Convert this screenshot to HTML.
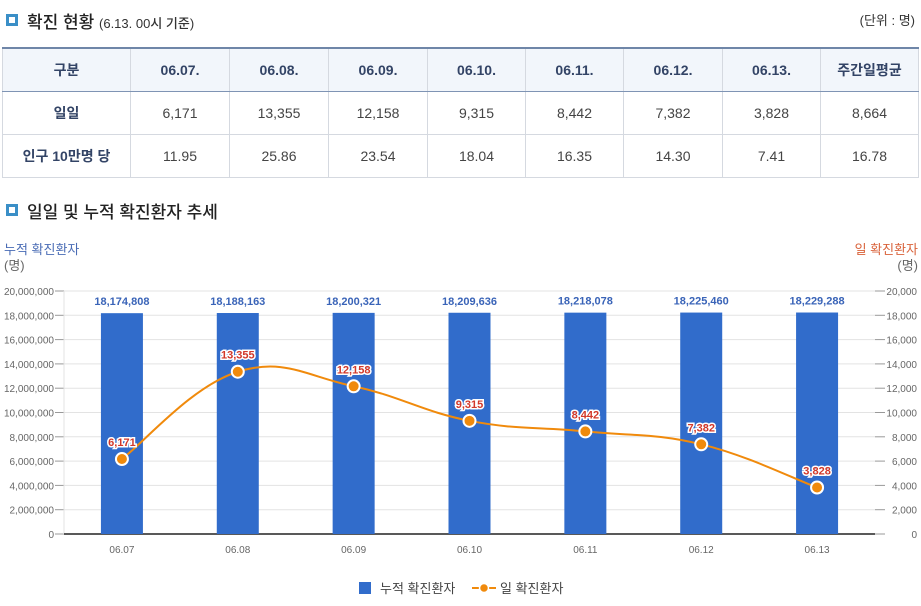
<!DOCTYPE html>
<html><head><meta charset="utf-8">
<style>
body{margin:0;width:921px;height:606px;background:#fff;font-family:"Liberation Sans","Noto Sans CJK KR",sans-serif;position:relative;overflow:hidden;color:#333}
.h{position:absolute;left:6px;font-size:17px;color:#222;font-weight:500}
.h .sq{display:inline-block;width:6px;height:6px;border:3px solid #3a8fc7;margin-right:9px;vertical-align:2px;background:#fff}
table{position:absolute;left:2px;top:47px;border-collapse:collapse;font-size:14px;table-layout:fixed;width:916px}
td,th{border:1px solid #d5d9e0;text-align:center;height:42px;padding:0;color:#444;font-weight:normal}
th{background:#f2f6fb;color:#334466;font-weight:bold}
tr.hd th{border-top:2px solid #6f86a8;border-bottom:1px solid #7f94b4}
td.lab{font-weight:bold;color:#334466}
</style></head><body>
<div class="h" style="top:8px"><span class="sq"></span>확진 현황 <span style="font-size:13px;color:#333">(6.13. 00시 기준)</span></div>
<div style="position:absolute;right:6px;top:10px;font-size:13px">(단위 : 명)</div>
<table>
<colgroup><col style="width:128px"><col style="width:99px"><col style="width:99px"><col style="width:99px"><col style="width:98px"><col style="width:98px"><col style="width:99px"><col style="width:98px"><col style="width:98px"></colgroup>
<tr class="hd"><th>구분</th><th>06.07.</th><th>06.08.</th><th>06.09.</th><th>06.10.</th><th>06.11.</th><th>06.12.</th><th>06.13.</th><th>주간일평균</th></tr>
<tr><td class="lab">일일</td><td>6,171</td><td>13,355</td><td>12,158</td><td>9,315</td><td>8,442</td><td>7,382</td><td>3,828</td><td>8,664</td></tr>
<tr><td class="lab">인구 10만명 당</td><td>11.95</td><td>25.86</td><td>23.54</td><td>18.04</td><td>16.35</td><td>14.30</td><td>7.41</td><td>16.78</td></tr>
</table>
<div class="h" style="top:198px"><span class="sq"></span>일일 및 누적 확진환자 추세</div>
<svg id="c" width="921" height="606" style="position:absolute;left:0;top:0"></svg>
<script>
const categories=["06.07","06.08","06.09","06.10","06.11","06.12","06.13"];
const cumulative=[18174808,18188163,18200321,18209636,18218078,18225460,18229288];
const daily=[6171,13355,12158,9315,8442,7382,3828];
const leftTicks=[0,2000000,4000000,6000000,8000000,10000000,12000000,14000000,16000000,18000000,20000000];
const rightTicks=[0,2000,4000,6000,8000,10000,12000,14000,16000,18000,20000];
const svg=document.getElementById('c');const NS='http://www.w3.org/2000/svg';
const X0=64,X1=875,Y0=534,Y1=291;
const bw=(X1-X0)/categories.length;
const xc=i=>X0+bw*(i+0.5);
const yl=v=>Y0-(v/20000000)*(Y0-Y1);
const yr=v=>Y0-(v/20000)*(Y0-Y1);
const fmt=v=>v.toLocaleString('en-US');
function el(t,a,txt){const e=document.createElementNS(NS,t);for(const k in a)e.setAttribute(k,a[k]);if(txt!=null)e.textContent=txt;svg.appendChild(e);return e;}
leftTicks.forEach(v=>{
 const g=el('line',{x1:X0,x2:X1,y1:yl(v),y2:yl(v),stroke:'#e3e3e3'});
 
 
 el('line',{x1:55,x2:X0,y1:yl(v),y2:yl(v),stroke:'#999'});
 const t=el('text',{x:54,y:yl(v)+4,'text-anchor':'end','font-size':10,fill:'#666'},fmt(v));
 
 
});
rightTicks.forEach(v=>{
 el('line',{x1:X1,x2:885,y1:yr(v),y2:yr(v),stroke:'#999'});
 const t=el('text',{x:917,y:yr(v)+4,'text-anchor':'end','font-size':10,fill:'#666'},fmt(v));
 
 
});
el('line',{x1:X0,x2:X0,y1:Y1,y2:Y0,stroke:'#e3e3e3'});
el('line',{x1:X0,x2:X1,y1:Y0,y2:Y0,stroke:'#222','stroke-width':1.5});
categories.forEach((c,i)=>{
 const t=el('text',{x:xc(i),y:553,'text-anchor':'middle','font-size':10,fill:'#666'},c);
 
 
 const b=el('rect',{x:xc(i)-21,y:yl(cumulative[i]),width:42,height:Y0-yl(cumulative[i]),fill:'#316ccb'});
 
 
 const l=el('text',{x:xc(i),y:yl(cumulative[i])-8,'text-anchor':'middle','font-size':11,'font-weight':'bold',fill:'#3a64b8'},fmt(cumulative[i]));
 
 
});
const pts=daily.map((v,i)=>[xc(i),yr(v)]);
let d='M'+pts[0][0]+','+pts[0][1];
for(let i=0;i<pts.length-1;i++){
 const p0=pts[Math.max(0,i-1)],p1=pts[i],p2=pts[i+1],p3=pts[Math.min(pts.length-1,i+2)];
 const t=0.2;
 d+=` C${p1[0]+(p2[0]-p0[0])*t},${p1[1]+(p2[1]-p0[1])*t} ${p2[0]-(p3[0]-p1[0])*t},${p2[1]-(p3[1]-p1[1])*t} ${p2[0]},${p2[1]}`;
}
const ln=el('path',{d:d,fill:'none',stroke:'#f08a0c','stroke-width':2});


pts.forEach((p,i)=>{
 const c=el('circle',{cx:p[0],cy:p[1],r:6,fill:'#f08a0c',stroke:'#fff','stroke-width':2});
 
 
 const t=el('text',{x:p[0],y:p[1]-13,'text-anchor':'middle','font-size':11,'font-weight':'bold',fill:'#d2382a',stroke:'#fff','stroke-width':3,'paint-order':'stroke'},fmt(daily[i]));
 
 
});
let t;
t=el('text',{x:4,y:254,'font-size':13,fill:'#4a6cb5'},'누적 확진환자');


el('text',{x:4,y:270,'font-size':13,fill:'#666'},'(명)');
t=el('text',{x:918,y:254,'font-size':13,fill:'#d9623a','text-anchor':'end'},'일 확진환자');


el('text',{x:918,y:270,'font-size':13,fill:'#666','text-anchor':'end'},'(명)');
const lg1=el('rect',{x:359,y:582,width:12,height:12,fill:'#316ccb'});


el('text',{x:380,y:593,'font-size':13,fill:'#444'},'누적 확진환자');
const lg2=el('line',{x1:472,x2:496,y1:588,y2:588,stroke:'#f08a0c','stroke-width':2});


el('circle',{cx:484,cy:588,r:4.5,fill:'#f08a0c',stroke:'#fff','stroke-width':1.5});
el('text',{x:500,y:593,'font-size':13,fill:'#444'},'일 확진환자');
</script>
</body></html>
